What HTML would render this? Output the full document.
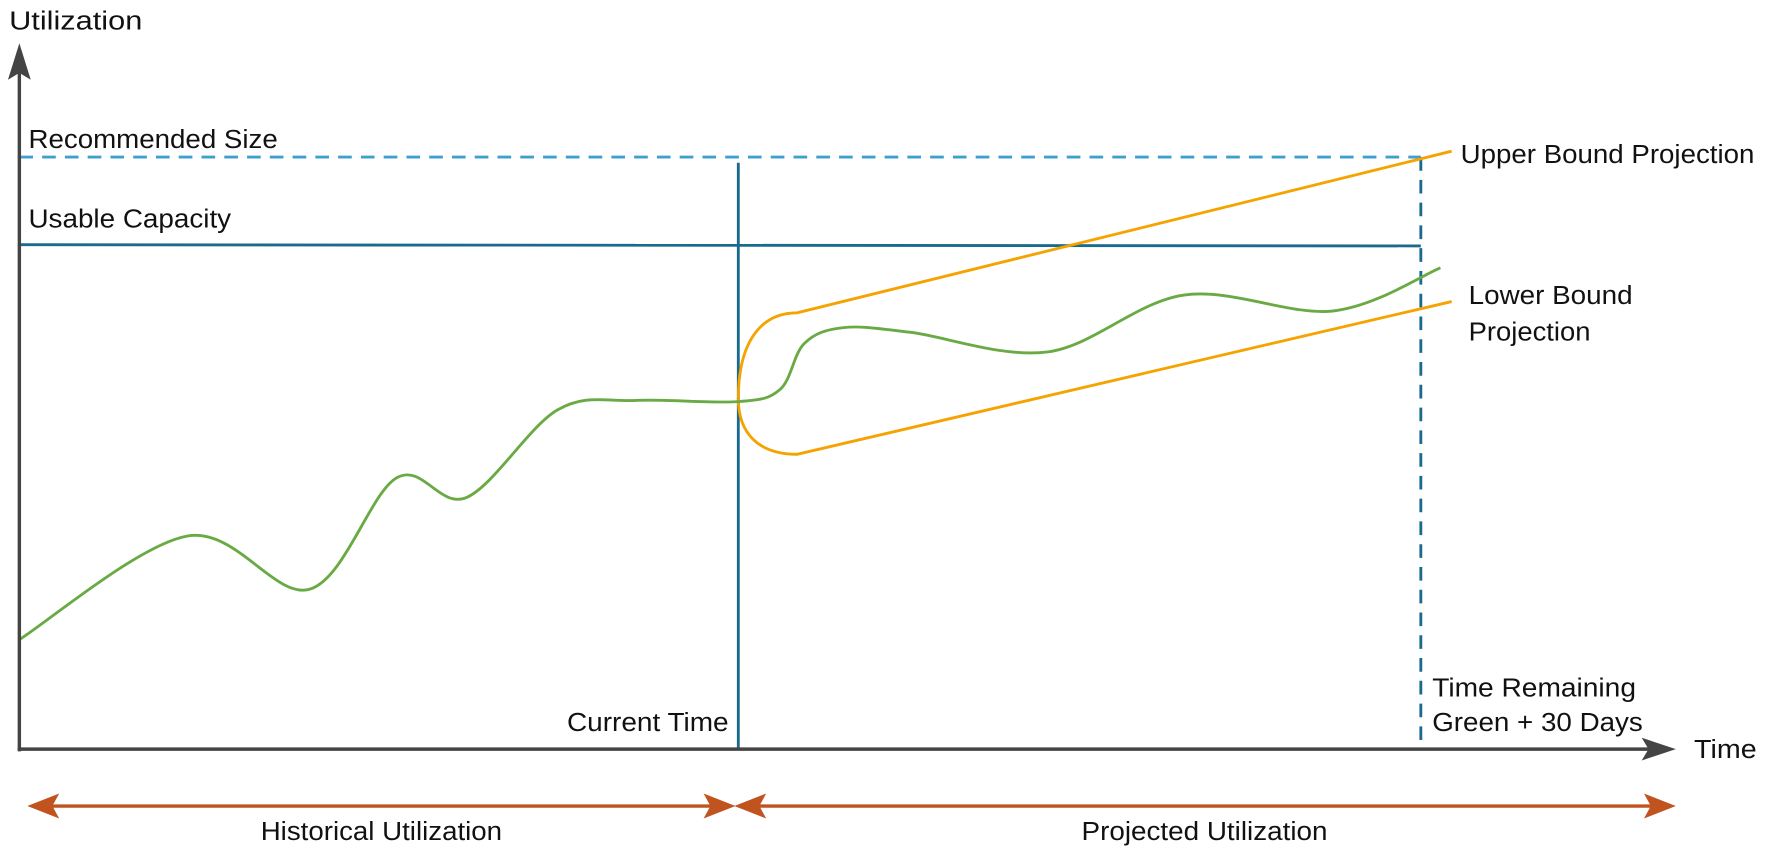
<!DOCTYPE html>
<html><head><meta charset="utf-8"><style>
html,body{margin:0;padding:0;background:#fff;}
svg{display:block;font-family:"Liberation Sans",Arial,sans-serif;}
</style></head><body>
<svg id="chart" width="1784" height="860" viewBox="0 0 1567 755.4" preserveAspectRatio="none" xmlns="http://www.w3.org/2000/svg">
<g id="marks"></g>
<g id="labels" font-size="23" fill="#111">
<text x="8" y="26" textLength="117" lengthAdjust="spacingAndGlyphs">Utilization</text>
<text x="1488" y="666" textLength="55" lengthAdjust="spacingAndGlyphs">Time</text>
<text x="25" y="130" textLength="219" lengthAdjust="spacingAndGlyphs">Recommended Size</text>
<text x="25" y="200" textLength="178" lengthAdjust="spacingAndGlyphs">Usable Capacity</text>
<text x="498" y="642" textLength="142" lengthAdjust="spacingAndGlyphs">Current Time</text>
<text x="1258" y="612" textLength="179" lengthAdjust="spacingAndGlyphs">Time Remaining</text>
<text x="1258" y="642" textLength="185" lengthAdjust="spacingAndGlyphs">Green + 30 Days</text>
<text x="1283" y="143" textLength="258" lengthAdjust="spacingAndGlyphs">Upper Bound Projection</text>
<text x="1290" y="267" textLength="144" lengthAdjust="spacingAndGlyphs">Lower Bound</text>
<text x="1290" y="299" textLength="107" lengthAdjust="spacingAndGlyphs">Projection</text>
<text x="229" y="738" textLength="212" lengthAdjust="spacingAndGlyphs">Historical Utilization</text>
<text x="950" y="738" textLength="216" lengthAdjust="spacingAndGlyphs">Projected Utilization</text>
</g>
</svg>
<script>
// Data (time 0..100 = start..time-remaining marker, utilization 0..100 = recommended size)
const usageTimes = [0, 12, 20.7, 26.9, 31.9, 38.4, 44, 51.3, 54.3, 56, 58.8, 63.6, 73.4, 83.1, 93.7, 101.4];
const usageValues = [18.5, 36, 27, 45.8, 42.5, 57.3, 58.9, 58.7, 60.8, 68.5, 71.2, 70.4, 67.1, 76.7, 74, 81.3];
const currentTime = 51.3;
const remainingTime = 100;
const recommendedSize = 100;
const usableCapacity = [85.2, 85];
const upperBound = [59.2, 73.7, 101];
const lowerBound = [59.2, 49.8, 75.6];
const boundTimes = [51.3, 55.5, 102.2];

const X0 = 17, XU = 12.31, Y0 = 658, YU = 5.2;
const xs = t => X0 + t * XU;
const ys = v => Y0 - v * YU;
const NS = 'http://www.w3.org/2000/svg';
const g = document.getElementById('marks');
function mk(tag, attrs) {
  const e = document.createElementNS(NS, tag);
  for (const k in attrs) e.setAttribute(k, attrs[k]);
  g.appendChild(e);
  return e;
}
let e;
e = mk('line', {x1: X0, x2: xs(remainingTime), y1: ys(recommendedSize), y2: ys(recommendedSize), stroke: '#3fa0d0', 'stroke-width': 2.5, 'stroke-dasharray': '12 8'});


e = mk('line', {x1: X0, x2: xs(remainingTime), y1: ys(usableCapacity[0]), y2: ys(usableCapacity[1]), stroke: '#1a6a8e', 'stroke-width': 2.5});


e = mk('line', {x1: xs(currentTime), x2: xs(currentTime), y1: 143, y2: Y0, stroke: '#1a6a8e', 'stroke-width': 2.5});


e = mk('line', {x1: xs(remainingTime), x2: xs(remainingTime), y1: ys(recommendedSize), y2: Y0, stroke: '#1a6a8e', 'stroke-width': 2.5, 'stroke-dasharray': '12 8'});


function boundPath(vals) {
  const p0 = [xs(boundTimes[0]), ys(vals[0])], p1 = [xs(boundTimes[1]), ys(vals[1])], p2 = [xs(boundTimes[2]), ys(vals[2])];
  return `M${p0[0]},${p0[1]} C${p0[0]},${(p0[1] + p1[1]) / 2 + (p1[1] - p0[1]) * 0.1} ${p1[0] - 35},${p1[1]} ${p1[0]},${p1[1]} L${p2[0]},${p2[1]}`;
}
e = mk('path', {d: boundPath(upperBound), fill: 'none', stroke: '#f5a300', 'stroke-width': 2.5});


e = mk('path', {d: boundPath(lowerBound), fill: 'none', stroke: '#f5a300', 'stroke-width': 2.5});


const pts = usageTimes.map((t, i) => [xs(t), ys(usageValues[i])]);
let d = `M${pts[0][0]},${pts[0][1]}`;
for (let i = 0; i < pts.length - 1; i++) {
  const p0 = pts[i - 1] || pts[i], p1 = pts[i], p2 = pts[i + 1], p3 = pts[i + 2] || p2;
  const c1 = [p1[0] + (p2[0] - p0[0]) / 6, p1[1] + (p2[1] - p0[1]) / 6];
  const c2 = [p2[0] - (p3[0] - p1[0]) / 6, p2[1] - (p3[1] - p1[1]) / 6];
  d += ` C${c1[0]},${c1[1]} ${c2[0]},${c2[1]} ${p2[0]},${p2[1]}`;
}
e = mk('path', {d: d, fill: 'none', stroke: '#6aaa45', 'stroke-width': 2.5});


e = mk('line', {x1: X0, x2: X0, y1: 660, y2: 60, stroke: '#444', 'stroke-width': 3});


e = mk('path', {d: 'M17,38 L27,70 L17,64 L7,70 Z', fill: '#444'});


e = mk('line', {x1: 15.5, x2: 1450, y1: Y0, y2: Y0, stroke: '#444', 'stroke-width': 3});


e = mk('path', {d: 'M1472,658 L1442,648 L1448,658 L1442,668 Z', fill: '#444'});


function dbl(x1, x2, name) {
  const y = 708, c = '#c0531e';
  const el = mk('g', {});
  
  
  const ln = document.createElementNS(NS, 'line');
  ln.setAttribute('x1', x1 + 10); ln.setAttribute('x2', x2 - 10); ln.setAttribute('y1', y); ln.setAttribute('y2', y);
  ln.setAttribute('stroke', c); ln.setAttribute('stroke-width', 3);
  el.appendChild(ln);
  const a = document.createElementNS(NS, 'path');
  a.setAttribute('d', `M${x1},${y} L${x1 + 28},${y - 11} L${x1 + 22},${y} L${x1 + 28},${y + 11} Z M${x2},${y} L${x2 - 28},${y - 11} L${x2 - 22},${y} L${x2 - 28},${y + 11} Z`);
  a.setAttribute('fill', c);
  el.appendChild(a);
}
dbl(24, 646, 'historical-range-arrow');
dbl(645, 1472, 'projected-range-arrow');
</script>
</body></html>
